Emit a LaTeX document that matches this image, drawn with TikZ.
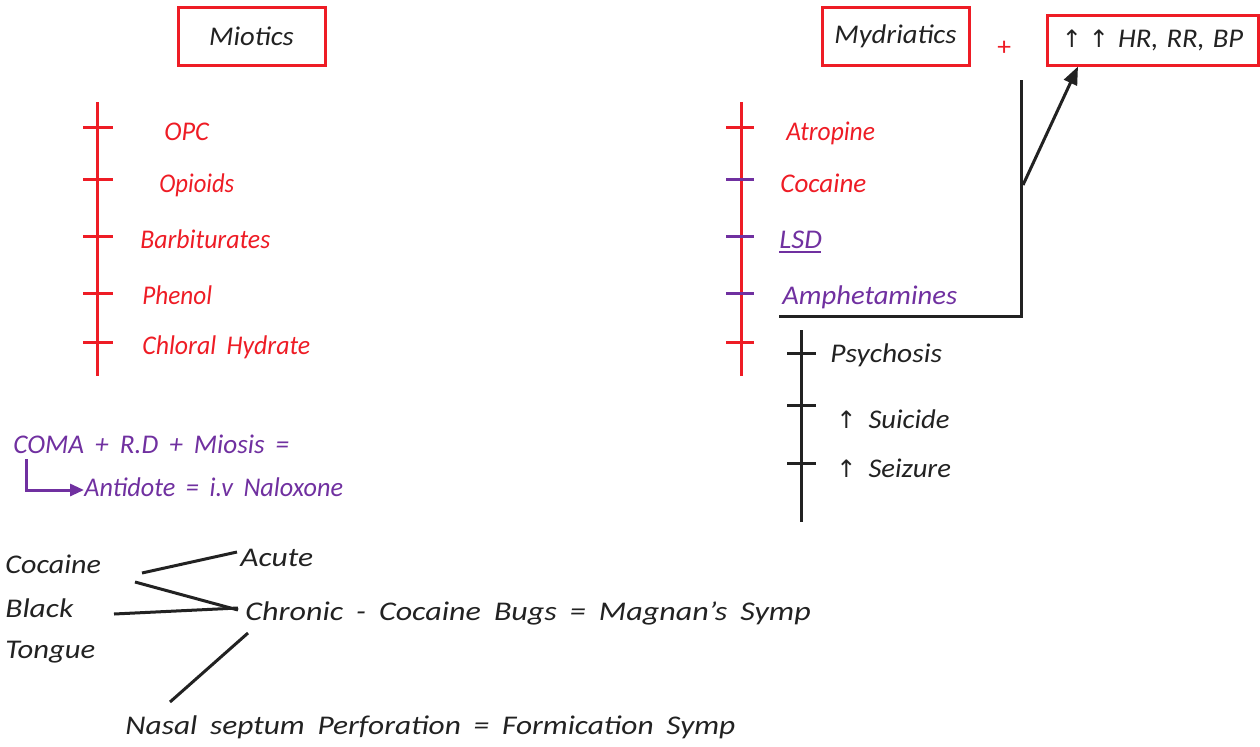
\documentclass[tikz,border=0pt]{standalone}
\usepackage{graphicx}
\usepackage{fontspec}
\setmainfont{Carlito}[ItalicFont=Carlito Italic, FakeStretch=1.06, WordSpace=1.8]
\newfontfamily\symfont{DejaVu Sans}
\usetikzlibrary{arrows.meta}
\definecolor{cred}{HTML}{EE1C25}
\definecolor{cpurple}{HTML}{7030A0}
\definecolor{cblack}{HTML}{222222}
\newcommand{\up}{{\symfont\fontsize{12pt}{14pt}\selectfont\char"2191}}
\newcommand{\sx}[2]{\scalebox{#1}[1]{#2}}
\tikzset{
  txt/.style={inner sep=0pt, anchor=base west, font=\fontsize{13.5pt}{16pt}\selectfont\itshape},
  rtxt/.style={txt, text=cred},
  ptxt/.style={txt, text=cpurple},
  btxt/.style={txt, text=cblack},
  titlebox/.style={draw=cred, line width=1.5pt, text=cblack, inner sep=0pt, font=\fontsize{13.5pt}{16pt}\selectfont\itshape},
  rline/.style={draw=cred, line width=1.5pt},
  pline/.style={draw=cpurple, line width=1.5pt},
  kline/.style={draw=cblack, line width=1.5pt},
}
\begin{document}
\begin{tikzpicture}[x=0.5pt,y=-0.5pt]
\useasboundingbox (0,0) rectangle (1260,746);
% title boxes
\node[titlebox, minimum width=73.5pt, minimum height=29pt] (miotics) at (251.5,36) {Miotics};
\node[titlebox, minimum width=73.5pt, minimum height=29pt] (mydr) at (895.5,36) {Mydriatics};
\node[titlebox, minimum width=105.5pt, minimum height=25pt] (hr) at (1152.5,40) {\up\hspace{3.5pt}\up\hspace{4.5pt}HR,\hspace{4pt}RR,\hspace{4pt}BP};
\node[rtxt, font=\fontsize{13pt}{15pt}\selectfont] (plus) at (997,55) {+};
% miotics list
\draw[rline] (97,102) -- (97,376);
\foreach \y in {127,179,236,293,342} \draw[rline] (83,\y) -- (113,\y);
\node[rtxt] (opc) at (164,140) {\sx{0.92}{OPC}};
\node[rtxt] (opi) at (159,192) {\sx{0.86}{Opioids}};
\node[rtxt] (barb) at (140,248) {\sx{0.9}{Barbiturates}};
\node[rtxt] (phen) at (142,304) {\sx{0.88}{Phenol}};
\node[rtxt] (chlor) at (142,354) {\sx{0.9}{Chloral Hydrate}};
% mydriatics list
\draw[rline] (741,102) -- (741,376);
\draw[rline] (726,127) -- (754,127);
\foreach \y in {179,236,293} \draw[pline] (726,\y) -- (754,\y);
\draw[rline] (726,342) -- (754,342);
\node[rtxt] (atro) at (786,140) {\sx{0.89}{Atropine}};
\node[rtxt] (coc) at (780,192) {\sx{0.945}{Cocaine}};
\node[ptxt] (lsd) at (779,248) {LSD};
\draw[pline, line width=1pt] (lsd.base west) ++(0,4) -- ++(42,0);
\node[ptxt] (amph) at (782,304) {Amphetamines};
% bracket and arrow
\coordinate (b1) at (779,316);
\coordinate (b2) at (1021,316);
\coordinate (b3) at (1021,80);
\coordinate (a1) at (1023,185);
\draw[kline] (b1) -- (b2) -- (b3);
\draw[kline, -{Triangle[length=9pt,width=7pt]}] (a1) -- (hr.south west -| 1078,0);
% amphetamine effects
\draw[kline] (801,330) -- (801,522);
\foreach \y in {353,405,463} \draw[kline] (787,\y) -- (816,\y);
\node[btxt] (psy) at (830,362) {\sx{1.03}{Psychosis}};
\node[btxt] (sui) at (836,428) {\up\hspace{6pt}Suicide};
\node[btxt] (sei) at (836,477) {\up\hspace{6pt}Seizure};
% coma
\node[ptxt] (coma) at (13,453) {\sx{0.95}{COMA + R.D + Miosis =}};
\node[ptxt] (anti) at (84,496) {\sx{0.915}{Antidote = i.v Naloxone}};
\draw[pline, -{Triangle[length=7pt,width=6pt]}] (26,459) -- (26,490) -- (anti.west |- 0,490);
% cocaine black tongue
\node[btxt] (cocaine) at (5,573) {\sx{1.05}{Cocaine}};
\node[btxt] (black) at (5,617) {\sx{1.1}{Black}};
\node[btxt] (tongue) at (5,658) {\sx{1.07}{Tongue}};
\node[btxt] (acute) at (240,566) {\sx{1.1}{Acute}};
\node[btxt] (chron) at (245,620) {\sx{1.12}{Chronic - Cocaine Bugs = Magnan's Symp}};
\node[btxt] (nasal) at (125,734) {\sx{1.097}{Nasal septum Perforation = Formication Symp}};
\coordinate (l1a) at (142,573); \coordinate (l1b) at (237,552);
\coordinate (l2a) at (135,582); \coordinate (l2b) at (238,610);
\coordinate (l3a) at (114,614); \coordinate (l3b) at (238,608);
\coordinate (l4a) at (248,633); \coordinate (l4b) at (170,702);
\draw[kline] (l1a) -- (l1b);
\draw[kline] (l2a) -- (l2b);
\draw[kline] (l3a) -- (l3b);
\draw[kline] (l4a) -- (l4b);
\end{tikzpicture}
\end{document}
